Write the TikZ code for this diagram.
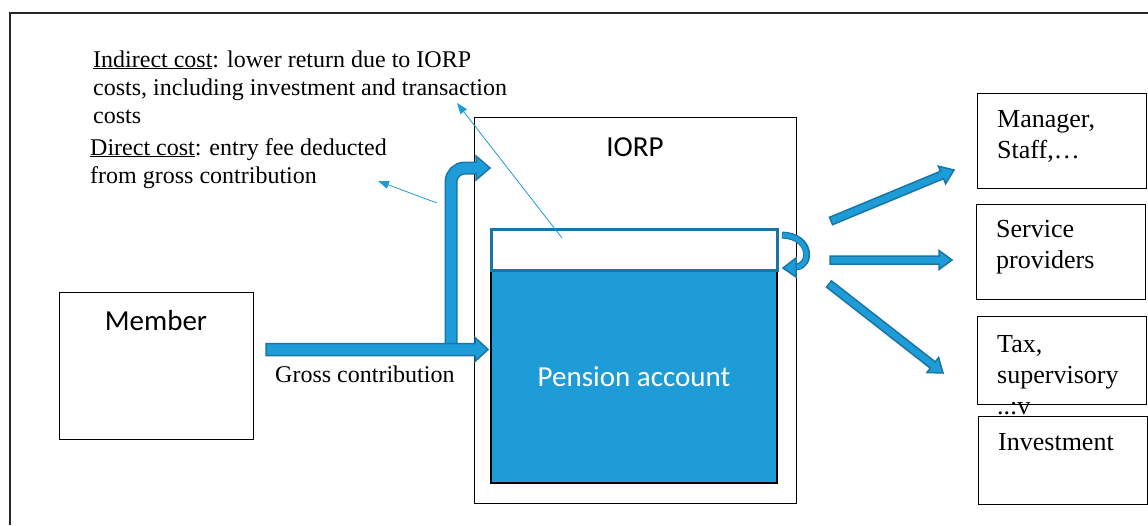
\documentclass[tikz,border=0pt]{standalone}
\usepackage{fontspec}
\setmainfont{Liberation Serif}
\newfontfamily\calibri{Carlito}
\usetikzlibrary{arrows.meta, calc, positioning}
\definecolor{accblue}{RGB}{30,156,215}
\definecolor{edgeblue}{RGB}{24,118,166}
\definecolor{framegray}{RGB}{40,40,40}

\tikzset{
  box/.style={draw, line width=1pt, inner sep=0pt, fill=white},
  sanslabel/.style={anchor=base, inner sep=0pt, font=\calibri\fontsize{29}{34}\selectfont},
  boxtext/.style={anchor=base west, inner sep=0pt, align=left, font=\fontsize{26}{31}\selectfont},
  note/.style={anchor=base west, inner sep=0pt, align=left, font=\fontsize{24}{28}\selectfont},
  fatarrow/.style={fill=accblue, draw=edgeblue, line width=1.5pt, line join=miter},
  thinarrow/.style={draw=accblue, line width=0.8pt, -{Triangle[length=11pt,width=8pt]}},
}

% block arrow: from, to, half shaft, half head, head length
\newcommand{\blockarrow}[5]{%
  \coordinate (ba-base) at ($(#2)!#5!(#1)$);
  \draw[fatarrow] ($(#1)!#3!90:(#2)$) -- ($(ba-base)!#3!90:(#2)$) -- ($(ba-base)!#4!90:(#2)$) -- (#2)
    -- ($(ba-base)!#4!-90:(#2)$) -- ($(ba-base)!#3!-90:(#2)$) -- ($(#1)!#3!-90:(#2)$) -- cycle;
}

\begin{document}
\begin{tikzpicture}[x=1pt, y=-1pt]
    \useasboundingbox (0,0) rectangle (1148,525);
    % frame
    \draw[framegray, line width=1.6pt] (10,525) -- (10,13) -- (1148,13);

    % Member
    \node[box, minimum width=194pt, minimum height=147pt] (member) at (156,365.5) {};
    \node[sanslabel] (membertxt) at (156,330) {Member};

    % IORP with the pension account
    \node[box, minimum width=322pt, minimum height=386pt] (iorp) at (635,310) {};
    \node[sanslabel] (iorptxt) at (635,156) {IORP};
    \node[draw=black, line width=2pt, fill=accblue, minimum width=286pt, minimum height=213pt,
          inner sep=0pt, text=white, font=\calibri\fontsize{29}{34}\selectfont] (account) at (634,376.5) {Pension account};
    \node[draw=edgeblue, line width=3pt, fill=white, minimum width=286pt, minimum height=41pt,
          inner sep=0pt] (returns) at (634,249.5) {};

    % Receivers (text anchored at its last line)
    \node[box, minimum width=169pt, minimum height=95pt] (manager) at (1061.5,140.5) {};
    \node[boxtext] (managertxt) at (997,158) {Manager,\\Staff,…};
    \node[box, minimum width=169pt, minimum height=95pt] (service) at (1060.5,251.5) {};
    \node[boxtext] (servicetxt) at (996,268) {Service\\providers};
    \node[box, minimum width=169pt, minimum height=88pt] (tax) at (1061.5,360) {};
    \node[boxtext] (taxtxt) at (997,414) {Tax,\\supervisory\\..:v};
    \node[box, minimum width=169pt, minimum height=88pt] (invest) at (1062.5,460) {};
    \node[boxtext] (investtxt) at (998,450) {Investment};

    % Notes
    \node[note] (indirect) at (93,123) {\underline{Indirect cost}: lower return due to IORP\\costs, including investment and transaction\\costs};
    \node[note] (direct) at (90,183) {\underline{Direct cost}: entry fee deducted\\from gross contribution};
    \node[note] (gross) at (275,382) {Gross contribution};

    % Arrow ends
    \coordinate (gc-from) at (266,349.5);
    \coordinate (gc-to) at (488,349.5);
    \coordinate (fee-to) at (490,168);
    \coordinate (dc-from) at (437,203);
    \coordinate (dc-to) at (378,181);
    \coordinate (ic-from) at (562,238);
    \coordinate (ic-to) at (457,103);
    \coordinate (out1-from) at (831,221);
    \coordinate (out1-to) at (954,170);
    \coordinate (out2-from) at (830,260);
    \coordinate (out2-to) at (952,260);
    \coordinate (out3-from) at (829,284);
    \coordinate (out3-to) at (943,373);

    % Entry fee branch
    \draw[line width=13pt, edgeblue, rounded corners=14pt] (451,349) |- (477,168);
    \draw[fatarrow] (476,156) -- (fee-to) -- (476,180) -- cycle;
    \draw[line width=10pt, accblue, rounded corners=14pt] (451,349) |- (477.5,168);

    % Gross contribution
    \blockarrow{gc-from}{gc-to}{6pt}{12pt}{13pt}

    % Cost pointers
    \draw[thinarrow] (dc-from) -- (dc-to);
    \draw[thinarrow] (ic-from) -- (ic-to);

    % Return loop
    \draw[line width=7pt, edgeblue] (782,235) .. controls (812,236) and (812,266) .. (796,267);
    \draw[fatarrow] (796,258) -- (783,268) -- (796,277) -- cycle;
    \draw[line width=4.5pt, accblue] (782.5,235) .. controls (811,236.5) and (811,265.5) .. (797,267);

    % Outgoing costs
    \blockarrow{out1-from}{out1-to}{4pt}{9.5pt}{13pt}
    \blockarrow{out2-from}{out2-to}{4pt}{9.5pt}{13pt}
    \blockarrow{out3-from}{out3-to}{4pt}{9.5pt}{13pt}
\end{tikzpicture}
\end{document}
